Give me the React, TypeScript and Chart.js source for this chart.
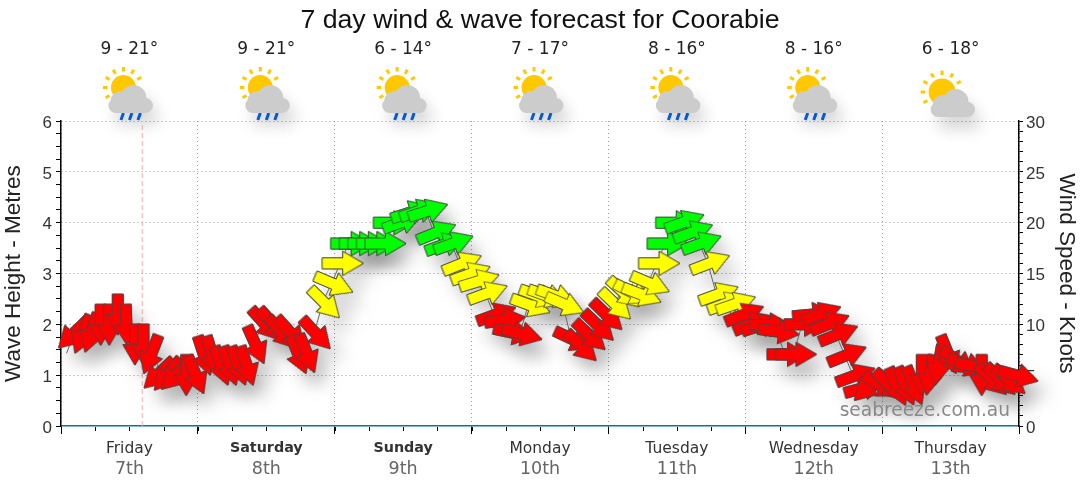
import React, { useEffect, useRef } from "react";
import { Chart, registerables } from "chart.js";

Chart.register(...registerables);

const dayNames = ["Friday", "Saturday", "Sunday", "Monday", "Tuesday", "Wednesday", "Thursday"];
const dayDates = ["7th", "8th", "9th", "10th", "11th", "12th", "13th"];
const weekendDays = ["Saturday", "Sunday"];
const tempLows = [9, 9, 6, 7, 8, 8, 6];
const tempHighs = [21, 21, 14, 17, 16, 16, 18];
const rainyDays = [true, true, true, true, true, true, false];
const nowHour = 14.25;

const forecastHours = [
  0.96, 2.46, 3.96, 5.46, 6.96, 8.46, 9.96, 11.46, 12.96, 14.46, 15.96, 17.46, 18.96, 20.46, 21.96, 23.46,
  24.96, 26.46, 27.96, 29.46, 30.96, 32.46, 33.96, 35.46, 36.96, 38.46, 39.96, 41.46, 42.96, 44.46, 45.96, 47.46,
  48.96, 50.46, 51.96, 53.46, 54.96, 56.46, 57.96, 59.46, 60.96, 62.46, 63.96, 65.46, 66.96, 68.46, 69.96, 71.46,
  72.96, 74.46, 75.96, 77.46, 78.96, 80.46, 81.96, 83.46, 84.96, 86.46, 87.96, 89.46, 90.96, 92.46, 93.96, 95.46,
  96.96, 98.46, 99.96, 101.46, 102.96, 104.46, 105.96, 107.46, 108.96, 110.46, 111.96, 113.46, 114.96, 116.46, 117.96, 119.46,
  120.96, 122.46, 123.96, 125.46, 126.96, 128.46, 129.96, 131.46, 132.96, 134.46, 135.96, 137.46, 138.96, 140.46, 141.96, 143.46,
  144.96, 146.46, 147.96, 149.46, 150.96, 152.46, 153.96, 155.46, 156.96, 158.46, 159.96, 161.46, 162.96, 164.46, 165.96, 167.46,
];

const waveHeights = [
  1.43, 1.85, 1.85, 1.88, 2.04, 2.04, 2.24, 2.04, 1.65, 1.65, 1.45, 1.06, 1.05, 1.04, 1.05, 1.05,
  1.43, 1.43, 1.23, 1.23, 1.23, 1.23, 1.64, 2.04, 2.04, 1.87, 1.87, 1.45, 1.47, 1.85, 2.45, 2.81,
  3.2, 3.59, 3.59, 3.59, 3.59, 3.59, 4.0, 4.0, 4.19, 4.22, 4.22, 3.79, 3.56, 3.58, 3.18, 2.98,
  2.84, 2.6, 2.18, 2.08, 1.84, 1.82, 2.39, 2.57, 2.57, 2.57, 2.41, 1.72, 1.6, 1.81, 2.0, 2.21,
  2.42, 2.65, 2.64, 2.6, 2.82, 3.2, 3.59, 4.0, 4.0, 3.8, 3.58, 3.19, 2.58, 2.4, 2.39, 2.18,
  2.0, 1.97, 1.99, 1.86, 1.41, 1.41, 2.0, 2.19, 2.19, 2.0, 1.79, 1.38, 0.98, 0.74, 0.82, 0.82,
  0.83, 0.82, 0.83, 0.84, 1.05, 1.05, 1.25, 1.45, 1.3, 1.22, 1.18, 1.05, 0.94, 0.94, 0.93, 1.0,
];

const windDirections: (number | null)[] = [
  null, 136, 112, 108, 90, 90, 90, 88, 90, 90, 111, 136, 130, 135, 90, 67,
  72, 73, 71, 72, 70, 72, 66, 48, 48, 48, 48, 68, 68, 47, 45, 23,
  0, 0, 0, 0, 0, 0, 0, -20, -18, -19, -18, -22, -20, -20, -22, -20,
  -17, -20, -20, -8, 12, 15, 20, 20, 20, 20, 23, 25, 44, 43, 44, 44,
  44, 42, 27, 21, 23, 0, 0, 0, -20, -20, -20, -21, -20, -20, -19, -22,
  -22, -18, 0, 8, 0, 0, 0, -5, -20, -22, -22, -22, -20, -15, 135, 30,
  45, 66, 67, 68, 90, 100, 100, 68, 35, 20, 10, 90, 45, 45, 40, 15,
];

const RED = "#ff0000";
const YELLOW = "#ffff00";
const GREEN = "#00ff00";

function makeArrow(fill: string) {
  const c = document.createElement("canvas");
  c.width = 70;
  c.height = 70;
  const g = c.getContext("2d")!;
  g.translate(37.5, 35);
  g.beginPath();
  g.moveTo(-20.5, -5.5);
  g.lineTo(0, -5.5);
  g.lineTo(0, -12);
  g.lineTo(20.5, 0);
  g.lineTo(0, 12);
  g.lineTo(0, 5.5);
  g.lineTo(-20.5, 5.5);
  g.closePath();
  g.fillStyle = fill;
  g.fill();
  g.lineWidth = 0.8;
  g.strokeStyle = "#444444";
  g.stroke();
  return c;
}

function cloudPath(g: CanvasRenderingContext2D, left: number, top: number) {
  g.beginPath();
  g.moveTo(left + 7.5, top + 28);
  g.arc(left + 7.5, top + 20.5, 7.5, Math.PI * 0.5, Math.PI * 1.5);
  g.lineTo(left + 37, top + 13);
  g.arc(left + 37, top + 20.5, 7.5, Math.PI * 1.5, Math.PI * 0.5);
  g.closePath();
  g.moveTo(left + 22, top + 16);
  g.arc(left + 12, top + 16, 10, 0, Math.PI * 2);
  g.moveTo(left + 38, top + 13);
  g.arc(left + 25, top + 13, 13, 0, Math.PI * 2);
}

function drawIcon(g: CanvasRenderingContext2D, cx: number, rainy: boolean) {
  const sunX = rainy ? cx - 6 : cx - 8.5;
  const sunY = rainy ? 87.5 : 92;
  const sunR = rainy ? 12.5 : 13.5;
  g.save();
  g.fillStyle = "#ffc800";
  g.strokeStyle = "#ffc800";
  g.lineWidth = 3;
  for (const a of [-180, -150, -120, -90, -60, -30, 150]) {
    const rad = (a * Math.PI) / 180;
    g.beginPath();
    g.moveTo(sunX + Math.cos(rad) * (sunR + 3.5), sunY + Math.sin(rad) * (sunR + 3.5));
    g.lineTo(sunX + Math.cos(rad) * (sunR + 8), sunY + Math.sin(rad) * (sunR + 8));
    g.stroke();
  }
  g.beginPath();
  g.arc(sunX, sunY, sunR, 0, Math.PI * 2);
  g.fill();
  const left = cx - (rainy ? 21 : 20);
  const top = rainy ? 85 : 89;
  if (rainy) {
    g.strokeStyle = "#0066ff";
    g.lineWidth = 3;
    for (const d of [13.5, 22, 30.5]) {
      g.beginPath();
      g.moveTo(left + d + 1.5, top + 28);
      g.lineTo(left + d - 1, top + 35);
      g.stroke();
    }
  }
  g.shadowColor = "rgba(0,0,0,0.16)";
  g.shadowBlur = 16;
  g.shadowOffsetX = 6;
  g.shadowOffsetY = 12;
  g.fillStyle = "#cccccc";
  cloudPath(g, left, top);
  g.fill();
  g.restore();
}

const decorations = {
  id: "decorations",
  beforeDatasetDraw(chart: any, args: any) {
    if (chart.data.datasets[args.index].label === "Arrow shadow") {
      const g = chart.ctx;
      g.shadowColor = "rgba(0,0,0,0.2)";
      g.shadowBlur = 18;
      g.shadowOffsetX = 10;
      g.shadowOffsetY = 13;
    }
  },
  afterDatasetDraw(chart: any) {
    const g = chart.ctx;
    g.shadowColor = "rgba(0,0,0,0)";
    g.shadowBlur = 0;
    g.shadowOffsetX = 0;
    g.shadowOffsetY = 0;
  },
  afterDraw(chart: any) {
    const g: CanvasRenderingContext2D = chart.ctx;
    const x = chart.scales.x;
    g.save();
    g.strokeStyle = "#000000";
    g.lineWidth = 1;
    x.ticks.forEach((t: any) => {
      const px = Math.round(x.getPixelForValue(t.value)) + 0.5;
      g.beginPath();
      g.moveTo(px, 427);
      g.lineTo(px, 431);
      g.stroke();
    });
    g.textAlign = "center";
    g.textBaseline = "middle";
    dayDates.forEach((d, i) => {
      const px = x.getPixelForValue(12 + 24 * i);
      g.font = "17.5px 'DejaVu Sans'";
      g.fillStyle = "#666666";
      g.fillText(d, px, 469);
      g.font = "17px 'DejaVu Sans'";
      g.fillStyle = "#222222";
      g.fillText(`${tempLows[i]} - ${tempHighs[i]}°`, px, 50);
      drawIcon(g, px, rainyDays[i]);
    });
    g.textAlign = "right";
    g.font = "18.6px 'DejaVu Sans'";
    g.fillStyle = "#888888";
    g.fillText("seabreeze.com.au", 1010, 411);
    g.restore();
  },
};

const valueLabel = (text: string) => ["", text];

export default function App() {
  const ref = useRef<HTMLCanvasElement>(null);
  useEffect(() => {
    document.body.style.margin = "0";
    const arrows: Record<string, HTMLCanvasElement> = {
      red: makeArrow(RED),
      yellow: makeArrow(YELLOW),
      green: makeArrow(GREEN),
    };
    const arrowFor = (h: number) => (h < 2.3 ? arrows.red : h < 3.4 ? arrows.yellow : arrows.green);
    const points = forecastHours.map((x, i) => ({ x, y: waveHeights[i] }));
    const pointOpts = {
      pointStyle: (c: any) => arrowFor(waveHeights[c.dataIndex]),
      pointRotation: (c: any) => windDirections[c.dataIndex] ?? 0,
      pointRadius: (c: any) => (windDirections[c.dataIndex] === null ? 0 : 12),
      pointHoverRadius: 12,
      showLine: false,
      clip: false as const,
    };
    const chart = new Chart(ref.current!, {
      type: "line",
      data: {
        datasets: [
          { label: "Wave arrows", data: points, order: 0, ...pointOpts },
          { label: "Wave height", data: points, order: 1, borderColor: "#666666", borderWidth: 1, pointRadius: 0, tension: 0 },
          { label: "Arrow shadow", data: points, order: 2, ...pointOpts },
          {
            label: "Now",
            data: [{ x: nowHour, y: 0 }, { x: nowHour, y: 6 }],
            order: 3,
            borderColor: "#ffaaaa",
            borderWidth: 1,
            borderDash: [5, 3],
            pointRadius: 0,
          },
        ],
      },
      options: {
        responsive: false,
        devicePixelRatio: 1,
        animation: false,
        events: [],
        plugins: {
          legend: { display: false },
          tooltip: { enabled: false },
          title: {
            display: true,
            text: "7 day wind & wave forecast for Coorabie",
            color: "#111111",
            font: { family: "'Liberation Sans'", size: 26.7, weight: "normal", lineHeight: 1.2 },
            padding: { top: 5, bottom: 84 },
          },
        },
        scales: {
          x: {
            type: "linear",
            min: 0,
            max: 168,
            afterFit: (s: any) => { s.height = 64; },
            border: { color: "#0077aa", width: 1.5, dash: [1, 3] },
            grid: {
              color: (c: any) => (c.tick && c.tick.value % 24 === 0 ? "#999999" : "rgba(0,0,0,0)"),
              tickColor: (c: any) => (c.tick && c.tick.value % 24 === 0 ? "#000000" : "rgba(0,0,0,0)"),
              tickLength: 8,
              tickBorderDash: [],
            },
            ticks: {
              stepSize: 6,
              autoSkip: false,
              maxRotation: 0,
              padding: 6,
              color: "#333333",
              callback: (v: any) => (v % 24 === 12 ? dayNames[(v - 12) / 24] : ""),
              font: (c: any) => {
                const name = c.tick ? dayNames[(c.tick.value - 12) / 24] : "";
                const weekend = weekendDays.includes(name);
                return {
                  family: "'DejaVu Sans'",
                  size: weekend ? 14.3 : 15.5,
                  weight: weekend ? "bold" : "normal",
                };
              },
            },
          },
          y: {
            min: 0,
            max: 6,
            afterFit: (s: any) => { s.width = 61; },
            border: { color: "#000000", width: 1.5, dash: [1, 3], dashOffset: 0 },
            grid: {
              color: (c: any) => (c.tick && Number.isInteger(c.tick.value) && c.tick.value > 0 ? "#999999" : "rgba(0,0,0,0)"),
              tickColor: "#000000",
              tickLength: 5,
              tickBorderDash: [],
            },
            title: {
              display: true,
              text: "Wave Height - Metres",
              color: "#222222",
              font: { family: "'Liberation Sans'", size: 22.5, lineHeight: 1.25 },
              padding: 0,
            },
            ticks: {
              stepSize: 0.25,
              autoSkip: false,
              padding: 4,
              color: "#333333",
              font: { family: "'Liberation Sans'", size: 17, lineHeight: "4px" },
              callback: (v: any) => (Number.isInteger(v) ? valueLabel(String(v)) : ""),
            },
          },
          y2: {
            position: "right",
            min: 0,
            max: 30,
            afterFit: (s: any) => { s.width = 61; },
            border: { color: "#000000", width: 1.5 },
            grid: { drawOnChartArea: false, tickColor: "#000000", tickLength: 4 },
            title: {
              display: true,
              text: "Wind Speed - Knots",
              color: "#222222",
              font: { family: "'Liberation Sans'", size: 22.5, lineHeight: 1.25 },
              padding: 0,
            },
            ticks: {
              stepSize: 1,
              autoSkip: false,
              padding: 3,
              color: "#333333",
              font: { family: "'Liberation Sans'", size: 17, lineHeight: "4px" },
              callback: (v: any) => (v % 5 === 0 ? valueLabel(String(v)) : ""),
            },
          },
        },
      },
      plugins: [decorations],
    } as any);
    return () => chart.destroy();
  }, []);
  return (
    <div style={{ width: 1080, height: 490 }}>
      <canvas ref={ref} width={1080} height={490} style={{ display: "block" }} />
    </div>
  );
}
